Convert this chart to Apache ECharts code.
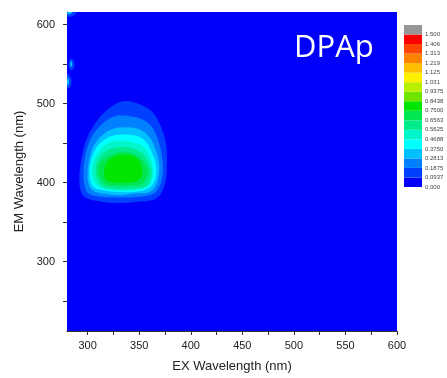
<!DOCTYPE html>
<html><head><meta charset="utf-8">
<script src="https://cdn.jsdelivr.net/npm/echarts@6/dist/echarts.min.js"></script>
<style>html,body{margin:0;padding:0;background:#fff}#c{width:447px;height:378px}</style>
</head><body><div id="c"></div>
<script>
// ---- axes ----
const exRange = [280, 600];
const emRange = [212, 616];
const exTickValues = [300, 325, 350, 375, 400, 425, 450, 475, 500, 525, 550, 575, 600];
const exLabelValues = [300, 350, 400, 450, 500, 550, 600];
const emTickValues = [250, 300, 350, 400, 450, 500, 550, 600];
const emLabelValues = [300, 400, 500, 600];

// ---- colour levels ----
const levelStep = 0.09375;
const levelLabels = ['0.000', '0.0937', '0.1875', '0.2813', '0.3750', '0.4688', '0.5625', '0.6563',
  '0.7500', '0.8438', '0.9375', '1.031', '1.125', '1.219', '1.313', '1.406', '1.500'];
const bandColors = ['#0000fa', '#0040ff', '#0080ff', '#00c0ff', '#00ffff', '#00f5c8', '#00eb8c',
  '#00e650', '#00e600', '#70e600', '#b8f000', '#fff000', '#ffbe00', '#ff8200', '#ff4600', '#ff0000', '#969696'];

// ---- contour boundaries [EX nm, EM nm], one per level (band index) ----
const domain = [[280, 212], [600, 212], [600, 616], [280, 616]];
const contour1 = [[334,503],[351,499],[363,489],[371,471],[376,449],[377,426],[376,405],[372,388],[365,379],[351,376],[331,374],[312,376],[298,381],[293,391],[292,407],[294,430],[299,455],[309,478],[321,494]];
const contour2 = [[335,485],[351,481],[362,471],[368,455],[372,434],[373,413],[370,396],[364,386],[351,382],[331,381],[312,382],[301,386],[297,396],[296,413],[298,436],[304,458],[314,474],[324,483]];
const contour3 = [[335,470],[349,468],[359,459],[365,445],[369,427],[369,410],[366,396],[360,388],[346,386],[331,384],[315,386],[305,390],[301,398],[300,413],[302,432],[307,449],[315,461],[325,468]];
const contour4 = [[335,461],[348,459],[357,451],[362,439],[366,424],[366,407],[362,396],[356,391],[343,388],[329,388],[316,390],[307,393],[303,401],[302,415],[304,431],[309,445],[317,455],[326,460]];
const contour5 = [[335,453],[347,450],[355,444],[361,432],[363,420],[363,406],[360,397],[354,392],[341,390],[328,390],[316,392],[309,397],[305,405],[304,417],[307,431],[312,441],[319,449],[327,453]];
const contour6 = [[335,445],[346,442],[354,436],[359,426],[362,415],[361,405],[358,397],[350,393],[338,392],[327,392],[315,395],[310,402],[308,410],[308,421],[311,431],[317,439],[326,444]];
const contour7 = [[335,439],[345,436],[352,430],[357,421],[359,412],[357,405],[353,398],[341,396],[329,396],[317,398],[312,406],[310,415],[312,425],[318,432],[327,437]];
const contour8 = [[335,435],[343,434],[349,429],[352,421],[353,412],[351,405],[346,401],[335,400],[325,400],[318,403],[316,411],[317,421],[321,429],[328,434]];
// small features at the left edge
const spotTop1 = [[279,616],[289,616],[287,612],[282,610],[279,611]];
const spotTop2 = [[280,616],[285,616],[284,614],[281,613]];
const spotA1 = [[284,557],[287,552],[287,546],[284,542],[282,546],[282,553]];
const spotA2 = [[284,554],[285,550],[284,546],[283,550]];
const spotB1 = [[281,537],[284,532],[284,524],[281,519],[279,522],[279,535]];
const spotB2 = [[281,533],[282,528],[281,523],[280,528]];

const regions = [
  { band: 0, pts: domain, smooth: 0 },
  { band: 1, pts: contour1, smooth: 0.35 },
  { band: 2, pts: contour2, smooth: 0.35 },
  { band: 3, pts: contour3, smooth: 0.35 },
  { band: 4, pts: contour4, smooth: 0.35 },
  { band: 5, pts: contour5, smooth: 0.35 },
  { band: 6, pts: contour6, smooth: 0.35 },
  { band: 7, pts: contour7, smooth: 0.35 },
  { band: 8, pts: contour8, smooth: 0.35 },
  { band: 1, pts: spotTop1, smooth: 0.4 },
  { band: 3, pts: spotTop2, smooth: 0.4 },
  { band: 1, pts: spotA1, smooth: 0.4 },
  { band: 3, pts: spotA2, smooth: 0.4 },
  { band: 1, pts: spotB1, smooth: 0.4 },
  { band: 3, pts: spotB2, smooth: 0.4 }
];

const textColor = '#222';
const font = 'Liberation Sans, Arial, sans-serif';
const chart = echarts.init(document.getElementById('c'), null, { renderer: 'canvas' });
chart.setOption({
  animation: false,
  backgroundColor: '#fff',
  grid: [
    { left: 67, top: 12, width: 330, height: 321 },
    { left: 404, top: 25, width: 18, height: 162 }
  ],
  xAxis: [
    {
      type: 'value', gridIndex: 0, min: exRange[0], max: exRange[1],
      name: 'EX Wavelength (nm)', nameLocation: 'middle', nameGap: 29,
      nameTextStyle: { fontSize: 13, color: textColor, fontFamily: font },
      axisLine: { show: true, lineStyle: { color: '#333', width: 1 } },
      axisTick: { show: true, length: 4, inside: false, customValues: exTickValues, lineStyle: { color: '#333' } },
      axisLabel: { customValues: exLabelValues, fontSize: 11, color: textColor, fontFamily: font, margin: 9 },
      splitLine: { show: false }
    },
    { type: 'value', gridIndex: 1, min: 0, max: 1, show: false }
  ],
  yAxis: [
    {
      type: 'value', gridIndex: 0, min: emRange[0], max: emRange[1],
      name: 'EM Wavelength (nm)', nameLocation: 'middle', nameGap: 34,
      nameTextStyle: { fontSize: 13, color: textColor, fontFamily: font },
      axisLine: { show: true, lineStyle: { color: '#333', width: 1 } },
      axisTick: { show: true, length: 4, inside: false, customValues: emTickValues, lineStyle: { color: '#333' } },
      axisLabel: { customValues: emLabelValues, fontSize: 11, color: textColor, fontFamily: font, margin: 12 },
      splitLine: { show: false }
    },
    {
      type: 'value', gridIndex: 1, position: 'right', min: 0, max: levelStep * bandColors.length, interval: levelStep,
      axisLine: { show: false }, axisTick: { show: false }, splitLine: { show: false },
      axisLabel: {
        fontSize: 6, color: '#444', fontFamily: font, margin: 3,
        formatter: v => levelLabels[Math.round(v / levelStep)] || ''
      }
    }
  ],
  series: [
    {
      type: 'custom', xAxisIndex: 0, yAxisIndex: 0, clip: true,
      data: regions.map(r => r.pts[0]),
      renderItem: (params, api) => {
        const r = regions[params.dataIndex];
        return {
          type: 'polygon',
          shape: { points: r.pts.map(p => api.coord(p)), smooth: r.smooth },
          style: { fill: bandColors[r.band], stroke: null }
        };
      }
    },
    {
      type: 'custom', xAxisIndex: 1, yAxisIndex: 1,
      data: bandColors.map((c, k) => [0.5, k * levelStep]),
      renderItem: (params, api) => {
        const k = params.dataIndex;
        const p0 = api.coord([0, k * levelStep]);
        const p1 = api.coord([1, (k + 1) * levelStep]);
        return {
          type: 'rect',
          shape: { x: p0[0], y: p1[1], width: p1[0] - p0[0], height: p0[1] - p1[1] },
          style: { fill: bandColors[k] }
        };
      }
    }
  ],
  graphic: [
    {
      type: 'text', left: 294, top: 33, z: 100, zlevel: 0,
      style: { text: 'DPAp', fill: '#fff', fontSize: 31, fontFamily: 'Open Sans, Noto Sans, sans-serif' }
    }
  ]
});
</script></body></html>
